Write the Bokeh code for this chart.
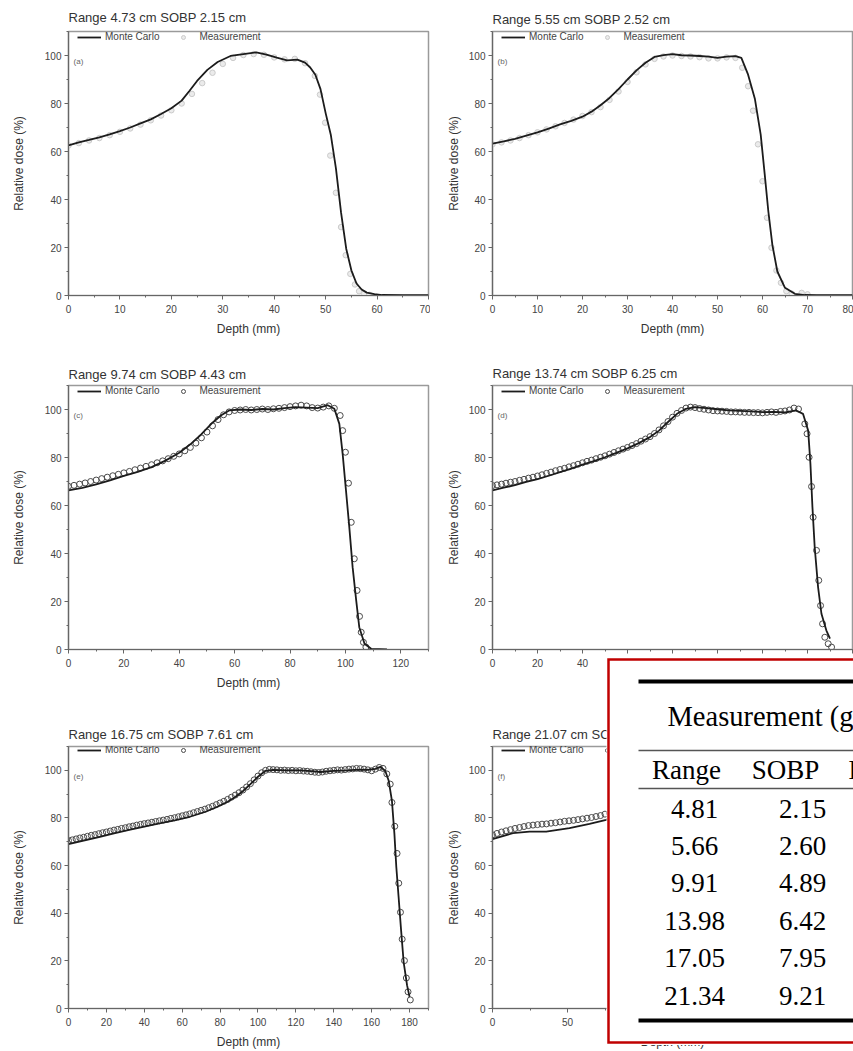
from bokeh.plotting import figure
from bokeh.layouts import gridplot, column
from bokeh.models import Range1d, SingleIntervalTicker, Legend, LegendItem, Label
from bokeh.core.properties import value
from bokeh.embed import file_html
from bokeh.resources import INLINE

# ---------------- data ----------------
titles = ["Range 4.73 cm SOBP 2.15 cm", "Range 5.55 cm SOBP 2.52 cm",
          "Range 9.74 cm SOBP 4.43 cm", "Range 13.74 cm SOBP 6.25 cm",
          "Range 16.75 cm SOBP 7.61 cm", "Range 21.07 cm SOBP 8.95 cm"]
panel_tags = ["(a)", "(b)", "(c)", "(d)", "(e)", "(f)"]
x_max = [70, 80, 130, 160, 190, 240]
x_tick = [10, 10, 20, 20, 20, 50]

# Monte Carlo curves
a_mc_x = [0, 2, 4, 6, 8, 10, 12, 14, 16, 18, 20, 22, 23.5, 25, 27, 29, 31.5, 34, 36.5, 38.5,
          40.5, 42.5, 44.5, 46, 47, 48, 49, 50, 51, 52, 53, 54, 55, 56, 57, 58, 59.5, 61, 65, 70]
a_mc_y = [62.6, 63.8, 64.8, 65.9, 67.1, 68.5, 70.0, 71.7, 73.4, 75.6, 78.0, 81.2, 85.2, 89.4, 94.0, 97.3,
          99.8, 100.6, 101.3, 100.4, 99.1, 98.0, 98.3, 97.0, 95.0, 92.0, 86.0, 76.0, 67.0, 53.0, 34.5,
          19.5, 10.5, 5.0, 2.5, 1.2, 0.6, 0.2, 0.1, 0.1]
b_mc_x = [0, 2.5, 5, 7.5, 10, 12.5, 15, 17.5, 20, 22, 24, 26, 28, 30, 32, 34, 36, 38, 40, 42, 44, 46,
          48, 50, 52, 54, 55.3, 56.8, 58.3, 59.6, 60.5, 61.3, 62.2, 63.3, 65, 67.2, 69.4, 72, 80]
b_mc_y = [63.3, 64.2, 65.3, 66.6, 68.0, 69.5, 71.3, 72.8, 74.5, 76.6, 79.3, 82.3, 86.0, 90.0, 93.8, 97.0,
          99.4, 100.2, 100.6, 100.1, 100.0, 99.8, 99.5, 99.0, 99.5, 99.7, 99.0, 92.0, 82.0, 67.0, 50.4,
          35.0, 21.0, 10.0, 3.2, 0.7, 0.2, 0.1, 0.1]
c_mc_x = [0, 5, 10, 15, 20, 25, 30, 35, 40, 44, 48, 52, 55, 58, 62, 66, 70, 74, 78, 82, 86, 90, 93.6,
          96, 97.8, 99, 100.2, 101.4, 102.6, 103.9, 105, 106.9, 109.3, 115]
c_mc_y = [66.3, 67.3, 68.8, 70.5, 72.3, 74.0, 76.0, 78.7, 82.0, 85.5, 89.7, 94.5, 97.5, 99.6, 100.0, 99.8,
          100.2, 100.0, 100.6, 101.0, 100.8, 100.6, 101.8, 100.3, 94.0, 81.5, 66.3, 51.0, 34.3, 20.4, 9.3,
          2.4, 0.3, 0.0]
d_mc_x = [0, 5, 10, 15, 20, 25, 30, 35, 40, 45, 50, 55, 60, 65, 70, 74, 78, 82, 86, 90, 95, 100, 105,
          110, 115, 120, 125, 130, 135, 138, 140.3, 141.3, 142.2, 143.2, 144.7, 146.2, 148.4, 150]
d_mc_y = [66.3, 67.4, 68.5, 69.8, 71.0, 72.4, 73.9, 75.4, 77.0, 78.5, 80.1, 81.9, 83.8, 86.0, 88.5, 91.2,
          94.8, 98.2, 100.3, 101.0, 100.6, 100.1, 99.6, 99.4, 99.2, 98.9, 99.0, 98.8, 99.6, 98.2, 91.2,
          77.4, 59.3, 42.6, 26.0, 14.9, 7.9, 4.5]
e_mc_x = [0, 8, 16, 24, 32, 40, 48, 56, 64, 72, 78, 84, 88, 92, 96, 100, 104, 108, 115, 122, 128, 133,
          140, 147, 153, 158, 162, 164.6, 167.2, 169, 170.7, 172, 173, 174.2, 175.5, 176.9, 178.7, 180]
e_mc_y = [69.0, 70.5, 72.0, 73.5, 75.0, 76.4, 77.7, 79.0, 80.5, 82.5, 84.5, 86.8, 88.8, 91.2, 94.2, 97.3,
          99.8, 100.2, 100.0, 100.0, 99.7, 99.3, 99.8, 100.0, 100.3, 100.2, 100.6, 101.5, 99.7, 95.6, 87.2,
          73.4, 59.5, 47.0, 33.2, 19.4, 9.7, 4.9]
f_mc_x = [0, 13.6, 24.7, 35.8, 51.3, 64.7, 75.8, 90, 100, 108, 114, 120, 130, 150, 170, 190, 206, 209,
          211, 213, 215, 217, 219, 221, 224]
f_mc_y = [71.1, 73.6, 74.3, 74.3, 75.7, 77.5, 79.2, 83.5, 87.5, 91.5, 96.0, 99.5, 100.0, 99.6, 100.2,
          99.8, 100.5, 97.0, 88.0, 72.0, 52.0, 33.0, 17.0, 7.0, 1.5]

# Measurements (regular depth grid + distal fall-off points)
a_meas_x = list(range(0, 47, 2)) + [47.9, 48.9, 49.9, 50.9, 52.0, 53.0, 53.9, 54.8, 55.7, 56.5, 57.5, 58.5]
a_meas_y = [62.5, 63.5, 64.6, 65.6, 66.8, 68.2, 69.6, 71.2, 73.0, 75.0, 77.2, 80.0, 84.0, 88.5, 92.8,
            96.5, 99.0, 100.2, 100.6, 100.3, 99.2, 98.4, 98.6, 96.8,
            91.5, 83.7, 72.0, 58.3, 42.8, 28.5, 16.8, 9.0, 4.6, 1.8, 0.8, 0.3]
b_meas_x = list(range(0, 55, 2)) + [55.5, 56.8, 57.9, 59.0, 60.0, 61.0, 62.0, 63.1, 64.1, 65.3, 66.5, 68.7, 70.0]
b_meas_y = [63.0, 63.8, 64.6, 65.6, 66.8, 68.0, 69.2, 70.5, 71.9, 73.3, 74.8, 76.4, 78.5, 81.5, 85.0,
            89.0, 93.0, 96.3, 98.6, 99.6, 100.0, 99.8, 99.6, 99.3, 98.8, 98.8, 99.2, 99.0,
            94.9, 87.2, 77.0, 63.0, 47.6, 32.4, 19.9, 10.4, 5.3, 1.8, 0.8, 1.1, 0.5]
c_meas_x = list(range(0, 97, 2)) + [98.1, 99.0, 100.0, 101.1, 102.1, 103.2, 104.2, 105.1, 105.7, 106.5, 107.4]
c_meas_y = [68.0, 68.4, 68.9, 69.4, 70.0, 70.6, 71.2, 71.8, 72.4, 73.0,
            73.6, 74.2, 74.9, 75.6, 76.3, 77.0, 77.8, 78.6, 79.5, 80.5,
            81.5, 82.8, 84.2, 86.0, 88.2, 90.6, 93.2, 95.8, 97.8, 99.0,
            99.6, 99.8, 100.0, 99.8, 100.0, 100.2, 100.0, 100.3, 100.5, 100.8,
            101.2, 101.5, 101.8, 101.5, 100.8, 100.6, 101.0, 101.5, 100.5,
            97.5, 91.2, 82.2, 69.3, 53.0, 37.8, 24.6, 13.8, 7.2, 3.0, 1.0]
d_meas_x = list(range(0, 137, 2)) + [138.8, 139.8, 140.7, 141.8, 142.5, 144.0, 145.0, 145.8, 146.7, 147.7, 149.2, 150.7]
d_meas_y = [68.3, 68.6, 68.9, 69.3, 69.7, 70.0, 70.5, 70.9, 71.4, 71.8,
            72.3, 72.8, 73.4, 73.9, 74.5, 75.0, 75.5, 76.1, 76.6, 77.2,
            77.8, 78.4, 78.9, 79.5, 80.1, 80.7, 81.4, 82.1, 82.8, 83.5,
            84.2, 85.0, 85.8, 86.8, 87.7, 88.7, 90.0, 91.5, 93.2, 95.0,
            96.8, 98.4, 99.6, 100.6, 101.0, 100.8, 100.4, 100.1, 99.8, 99.5,
            99.4, 99.3, 99.2, 99.0, 99.0, 98.9, 98.8, 98.8, 98.7, 98.7,
            98.6, 98.8, 99.0, 98.8, 99.2, 99.4, 99.8, 100.6, 100.2,
            94.0, 89.9, 80.1, 67.9, 55.1, 41.3, 28.8, 18.3, 10.7, 5.1, 2.4, 1.0]
e_meas_x = list(range(0, 167, 2)) + [168.0, 169.8, 170.7, 172.2, 173.4, 174.3, 175.2, 176.1, 177.3, 178.3, 179.2, 180.4]
e_meas_y = [70.5, 70.8, 71.2, 71.6, 71.9, 72.3, 72.7, 73.0, 73.4, 73.8,
            74.1, 74.5, 74.9, 75.2, 75.6, 75.9, 76.3, 76.6, 77.0, 77.3,
            77.6, 77.9, 78.2, 78.5, 78.8, 79.1, 79.4, 79.8, 80.1, 80.5,
            80.9, 81.3, 81.7, 82.2, 82.7, 83.2, 83.7, 84.3, 84.9, 85.6,
            86.3, 87.0, 87.8, 88.7, 89.6, 90.6, 91.7, 93.0, 94.4, 96.0,
            97.6, 99.0, 100.0, 100.4, 100.3, 100.2, 100.0, 100.1, 99.9, 100.0,
            99.8, 99.9, 99.7, 99.6, 99.4, 99.2, 99.1, 99.3, 99.6, 99.8,
            100.0, 100.2, 100.1, 100.3, 100.5, 100.6, 100.8, 100.7, 100.5, 100.2,
            99.8, 100.5, 101.2, 100.8,
            98.5, 94.2, 86.5, 76.5, 65.1, 52.6, 40.4, 29.1, 20.1, 12.8, 7.0, 3.6]
f_meas_x = list(range(0, 208, 3)) + [209.5, 211, 212.5, 214, 215.5, 217, 218.5, 220, 222, 224]
f_meas_y = [72.9, 73.5, 74.1, 74.6, 75.1, 75.6, 76.0, 76.4, 76.8, 77.0,
            77.2, 77.4, 77.5, 77.8, 78.0, 78.3, 78.6, 78.8, 79.0, 79.3,
            79.6, 79.9, 80.2, 80.6, 81.0, 81.6, 82.0, 82.5, 83.1, 83.8,
            84.6, 85.5, 86.5, 87.6, 88.9, 90.4, 92.2, 94.4, 96.8, 98.8,
            99.8, 100.2, 100.1, 99.9, 100.0, 99.8, 99.7, 99.9, 100.1, 100.0,
            99.8, 99.9, 100.2, 100.3, 100.1, 99.9, 100.0, 100.2, 100.4, 100.3,
            100.1, 100.0, 99.8, 99.9, 100.2, 100.5, 100.6, 100.4, 100.2, 99.0,
            96.0, 90.0, 80.0, 66.0, 50.0, 35.0, 21.0, 10.0, 3.5, 1.0]

mc_x = [a_mc_x, b_mc_x, c_mc_x, d_mc_x, e_mc_x, f_mc_x]
mc_y = [a_mc_y, b_mc_y, c_mc_y, d_mc_y, e_mc_y, f_mc_y]
meas_x = [a_meas_x, b_meas_x, c_meas_x, d_meas_x, e_meas_x, f_meas_x]
meas_y = [a_meas_y, b_meas_y, c_meas_y, d_meas_y, e_meas_y, f_meas_y]

# Table overlay
table_title = "Measurement (g/cm\u00b2)"
table_headers = ["Range", "SOBP", "Difference"]
table_range = ["4.81", "5.66", "9.91", "13.98", "17.05", "21.34"]
table_sobp = ["2.15", "2.60", "4.89", "6.42", "7.95", "9.21"]

# ---------------- layout ----------------
SANS = "Liberation Sans"
SERIF = "Liberation Serif"
COL_W = [430, 423]
COL_BL = [68, 62]
ROW_H = [350, 350, 351]
ROW_BT = [31, 35, 46]
TITLE_STANDOFF = [13, 9, 7, 9, 9, 10]
FRAME_W, FRAME_H = 360, 264
Y_MAX = 110


def make_panel(i):
    row, col = divmod(i, 2)
    w, h = COL_W[col], ROW_H[row]
    bl, bt = COL_BL[col], ROW_BT[row]
    p = figure(width=w, height=h, x_range=Range1d(0, x_max[i]), y_range=Range1d(0, Y_MAX),
               output_backend="svg", toolbar_location=None, title=titles[i],
               min_border_left=bl, min_border_right=w - bl - FRAME_W,
               min_border_top=bt, min_border_bottom=h - bt - FRAME_H)
    p.title.text_font = SANS
    p.title.text_font_size = "13px"
    p.title.text_font_style = "normal"
    p.title.text_color = "#333333"
    p.title.align = "left"
    p.title.standoff = TITLE_STANDOFF[i]
    p.xgrid.visible = False
    p.ygrid.visible = False
    p.outline_line_color = "#9a9a9a"
    p.outline_line_width = 1.5
    p.xaxis.ticker = SingleIntervalTicker(interval=x_tick[i], num_minor_ticks=2)
    p.yaxis.ticker = SingleIntervalTicker(interval=20, num_minor_ticks=2)
    p.xaxis.axis_label = "Depth (mm)"
    p.yaxis.axis_label = "Relative dose (%)"
    for ax in (p.xaxis[0], p.yaxis[0]):
        ax.major_tick_in = 0
        ax.major_tick_out = 4
        ax.minor_tick_in = 0
        ax.minor_tick_out = 2
        ax.axis_line_color = "#666666"
        ax.axis_line_width = 1.2
        ax.major_tick_line_color = "#666666"
        ax.minor_tick_line_color = "#666666"
        ax.major_label_text_font = SANS
        ax.major_label_text_font_size = "10px"
        ax.major_label_text_color = "#444444"
        ax.major_label_standoff = 3
        ax.axis_label_text_font = SANS
        ax.axis_label_text_font_size = "12px"
        ax.axis_label_text_font_style = "normal"
        ax.axis_label_text_color = "#333333"
    p.xaxis.major_label_standoff = 5
    p.xaxis.axis_label_standoff = 6
    p.yaxis.axis_label_standoff = 16 if col == 0 else 5

    if i < 2:
        r_meas = p.scatter(meas_x[i], meas_y[i], marker="circle", size=5.5,
                           fill_color="#ebebeb", line_color="#cbcbcb", line_width=1)
    else:
        r_meas = p.scatter(meas_x[i], meas_y[i], marker="circle", size=6,
                           fill_color=None, line_color="#4a4a4a", line_width=1)
    r_mc = p.line(mc_x[i], mc_y[i], line_color="#1c1c1c", line_width=1.8)

    legend = Legend(items=[LegendItem(label="Monte Carlo", renderers=[r_mc]),
                           LegendItem(label="Measurement", renderers=[r_meas])],
                    orientation="horizontal", location=(9, 253), padding=0, margin=0,
                    spacing=12, label_standoff=4, glyph_width=24, glyph_height=10,
                    label_height=10, label_text_font=SANS, label_text_font_size="10px",
                    label_text_color="#444444", background_fill_alpha=0, border_line_alpha=0)
    p.add_layout(legend)
    p.add_layout(Label(x=x_max[i] * 0.014, y=97.5, text=panel_tags[i], text_font=SANS,
                       text_font_size="8px", text_color="#666666", text_baseline="middle"))
    return p


panels = [make_panel(i) for i in range(6)]
grid = gridplot([[panels[0], panels[1]], [panels[2], panels[3]], [panels[4], panels[5]]],
                toolbar_location=None)

# ---------------- table overlay (its own small canvas laid over the grid) ----------------
TBL_LEFT, TBL_TOP = 606, 657          # page position of the overlay canvas
TBL_W, TBL_H = 853 - TBL_LEFT, 388
PAGE_H = sum(ROW_H)

t = figure(width=TBL_W, height=TBL_H, x_range=Range1d(0, TBL_W), y_range=Range1d(TBL_H, 0),
           output_backend="svg", toolbar_location=None, x_axis_type=None, y_axis_type=None,
           min_border=0, min_border_left=0, min_border_right=0, min_border_top=0, min_border_bottom=0)
t.grid.visible = False
t.outline_line_color = None
t.background_fill_color = "white"
t.border_fill_color = "white"

far = TBL_W + 40
# red frame (open to the right, like the cropped original)
t.line([far, 2, 2, far], [2, 2, 385, 385], line_color="#c00000", line_width=2.5, line_join="miter")
# horizontal rules of the table
t.quad(left=[32, 32, 32, 32], right=[far] * 4, top=[22, 92.3, 130.3, 361],
       bottom=[26, 93.7, 131.7, 365], fill_color=["black", "#555555", "#555555", "black"],
       line_color=None)

text_kw = dict(text_color="black", text_baseline="middle", text_font=value(SERIF))
t.text(x=[61], y=[59], text=[table_title], text_align="left",
       text_font_size=value("28.5px"), **text_kw)
t.text(x=[80, 179], y=[112, 112], text=table_headers[:2], text_align="center",
       text_font_size=value("27px"), **text_kw)
t.text(x=[242], y=[112], text=table_headers[2:], text_align="left",
       text_font_size=value("27px"), **text_kw)
row_y = [151, 188, 225, 263, 300, 338]
t.text(x=[88] * len(table_range), y=row_y, text=table_range, text_align="center",
       text_font_size=value("27px"), **text_kw)
t.text(x=[196] * len(table_sobp), y=row_y, text=table_sobp, text_align="center",
       text_font_size=value("27px"), **text_kw)

t.margin = (TBL_TOP - PAGE_H, 0, 0, TBL_LEFT)

page = column(grid, t)
open("out.html", "w").write(file_html(page, INLINE))
